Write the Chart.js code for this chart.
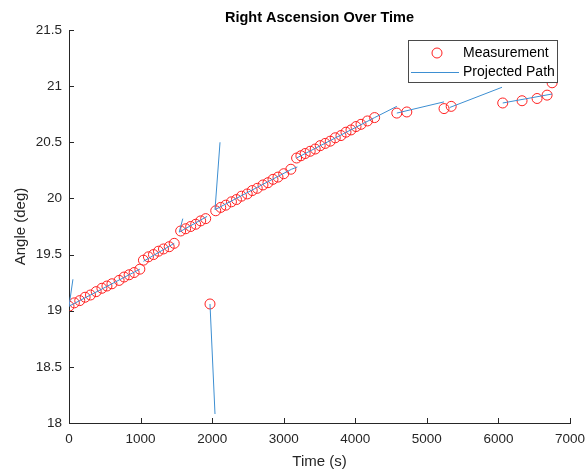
<!DOCTYPE html>
<html>
<head>
<meta charset="utf-8">
<title>Right Ascension Over Time</title>
<script src="https://cdn.jsdelivr.net/npm/chart.js@4.4.1/dist/chart.umd.min.js"></script>
<style>
  html, body { margin: 0; padding: 0; background: #fff; }
  #wrap { width: 587px; height: 476px; }
</style>
</head>
<body>
<div id="wrap"><canvas id="raChart" width="587" height="476"></canvas></div>
<script>
// measurement times (s) and right ascension (deg)
const timeS = [
  0, 75, 150, 225, 300, 380, 460, 530, 600, 700, 770, 840, 910, 990,
  1040, 1110, 1180, 1250, 1320, 1400, 1470,
  1560, 1630, 1700, 1770, 1840, 1910,
  1970,
  2050, 2120, 2190, 2270, 2340, 2410, 2490, 2560, 2630, 2710, 2780, 2850, 2920, 3000, 3100,
  3180, 3240, 3300, 3370, 3440, 3510, 3580, 3650, 3720, 3800, 3870, 3940, 4010, 4080, 4170, 4270,
  4580, 4720, 5240, 5340, 6060, 6330, 6540, 6680, 6750
];
const raDeg = [
  19.04, 19.07, 19.09, 19.12, 19.14, 19.17, 19.20, 19.22, 19.24, 19.27, 19.30, 19.32, 19.34, 19.37,
  19.45, 19.48, 19.50, 19.53, 19.55, 19.57, 19.60,
  19.71, 19.73, 19.75, 19.77, 19.80, 19.82,
  19.06,
  19.89, 19.92, 19.94, 19.97, 19.99, 20.02, 20.04, 20.07, 20.09, 20.12, 20.14, 20.17, 20.19, 20.22, 20.26,
  20.36, 20.38, 20.40, 20.42, 20.44, 20.47, 20.49, 20.51, 20.54, 20.56, 20.59, 20.61, 20.64, 20.66, 20.69, 20.72,
  20.76, 20.77, 20.80, 20.82, 20.85, 20.87, 20.89, 20.92, 21.03
];

// projected path pieces, null = break between pieces
const projX = [
  55, 0, 990, null,
  1040, 1470, null,
  1590, 1540, 1930, null,
  2110, 2040, 3110, 3190, null,
  1970, 2040, null,
  3180, 4270, 4580, null,
  4580, 5240, null,
  5320, 6050, null,
  6060, 6750
];
const projY = [
  19.28, 19.04, 19.37, null,
  19.44, 19.60, null,
  19.82, 19.70, 19.84, null,
  20.50, 19.90, 20.26, 20.28, null,
  19.06, 18.08, null,
  20.36, 20.72, 20.82, null,
  20.76, 20.86, null,
  20.81, 20.99, null,
  20.85, 20.93
];

const xTicks = [0, 1000, 2000, 3000, 4000, 5000, 6000, 7000];
const yTicks = [18, 18.5, 19, 19.5, 20, 20.5, 21, 21.5];

const FONT = "'Liberation Sans', Arial, Helvetica, sans-serif";
const AXIS = "#262626";
const RED = "#ff2020";
const BLUE = "#3d8fd2";

// MATLAB style inward ticks
const innerTicks = {
  id: "innerTicks",
  afterDraw(chart) {
    const { ctx, chartArea, scales } = chart;
    ctx.save();
    ctx.strokeStyle = AXIS;
    ctx.lineWidth = 1;
    ctx.beginPath();
    xTicks.forEach(v => {
      const px = Math.round(scales.x.getPixelForValue(v)) + 0.5;
      ctx.moveTo(px, chartArea.bottom);
      ctx.lineTo(px, chartArea.bottom - 5);
    });
    yTicks.forEach(v => {
      const py = Math.round(scales.y.getPixelForValue(v)) + 0.5;
      ctx.moveTo(chartArea.left, py);
      ctx.lineTo(chartArea.left + 5, py);
    });
    ctx.stroke();
    ctx.restore();
  }
};

// boxed legend in the top right corner
const boxLegend = {
  id: "boxLegend",
  afterDraw(chart) {
    const ctx = chart.ctx;
    ctx.save();
    ctx.fillStyle = "#fff";
    ctx.fillRect(408, 40, 150, 43);
    ctx.strokeStyle = "#4a4a4a";
    ctx.lineWidth = 1;
    ctx.strokeRect(408.5, 40.5, 149, 42);

    ctx.strokeStyle = RED;
    ctx.beginPath();
    ctx.arc(437, 53, 5, 0, Math.PI * 2);
    ctx.stroke();

    ctx.strokeStyle = BLUE;
    ctx.beginPath();
    ctx.moveTo(411, 72.5);
    ctx.lineTo(459, 72.5);
    ctx.stroke();

    ctx.fillStyle = "#000";
    ctx.font = "14px " + FONT;
    ctx.textBaseline = "middle";
    ctx.textAlign = "left";
    ctx.fillText("Measurement", 463, 53);
    ctx.fillText("Projected Path", 463, 72);
    ctx.restore();
  }
};

const measurePoints = timeS.map((t, i) => ({ x: t, y: raDeg[i] }));
const pathPoints = projX.map((t, i) => ({ x: t, y: projY[i] }));

new Chart(document.getElementById("raChart"), {
  type: "scatter",
  data: {
    datasets: [
      {
        label: "Measurement",
        data: measurePoints,
        showLine: false,
        pointStyle: "circle",
        pointRadius: 5,
        pointBorderWidth: 1,
        pointBorderColor: RED,
        pointBackgroundColor: "rgba(0,0,0,0)",
        order: 2
      },
      {
        label: "Projected Path",
        data: pathPoints,
        showLine: true,
        spanGaps: false,
        borderColor: BLUE,
        borderWidth: 1,
        pointRadius: 0,
        order: 1
      }
    ]
  },
  options: {
    responsive: false,
    animation: false,
    layout: { padding: { left: 0, right: 17, top: 0, bottom: 0 } },
    plugins: {
      legend: { display: false },
      tooltip: { enabled: false },
      title: {
        display: true,
        fullSize: false,
        text: "Right Ascension Over Time",
        color: "#000",
        font: { family: FONT, size: 14.5, weight: "bold" },
        padding: { top: 9, bottom: 3.6 }
      }
    },
    scales: {
      x: {
        type: "linear",
        min: 0,
        max: 7000,
        afterBuildTicks: s => { s.ticks = xTicks.map(v => ({ value: v })); },
        afterFit: s => { s.height = 53; },
        // tick marks are drawn by the plugin; tickLength only spaces the labels
        grid: { display: false, drawTicks: true, tickLength: 8 },
        border: { display: true, color: AXIS, width: 1 },
        ticks: {
          color: AXIS,
          padding: 0,
          maxRotation: 0,
          font: { family: FONT, size: 13.5 },
          callback: v => String(v)
        },
        title: {
          display: true,
          text: "Time (s)",
          color: AXIS,
          font: { family: FONT, size: 15 },
          padding: { top: 0, bottom: 5 }
        }
      },
      y: {
        type: "linear",
        min: 18,
        max: 21.5,
        afterBuildTicks: s => { s.ticks = yTicks.map(v => ({ value: v })); },
        afterFit: s => { s.width = 69; },
        grid: { display: false, drawTicks: false },
        border: { display: true, color: AXIS, width: 1 },
        ticks: {
          color: AXIS,
          padding: 7,
          font: { family: FONT, size: 13.5 },
          callback: v => String(v)
        },
        title: {
          display: true,
          text: "Angle (deg)",
          color: AXIS,
          font: { family: FONT, size: 15 },
          padding: { top: 12, bottom: 0 }
        }
      }
    }
  },
  plugins: [innerTicks, boxLegend]
});
</script>
</body>
</html>
